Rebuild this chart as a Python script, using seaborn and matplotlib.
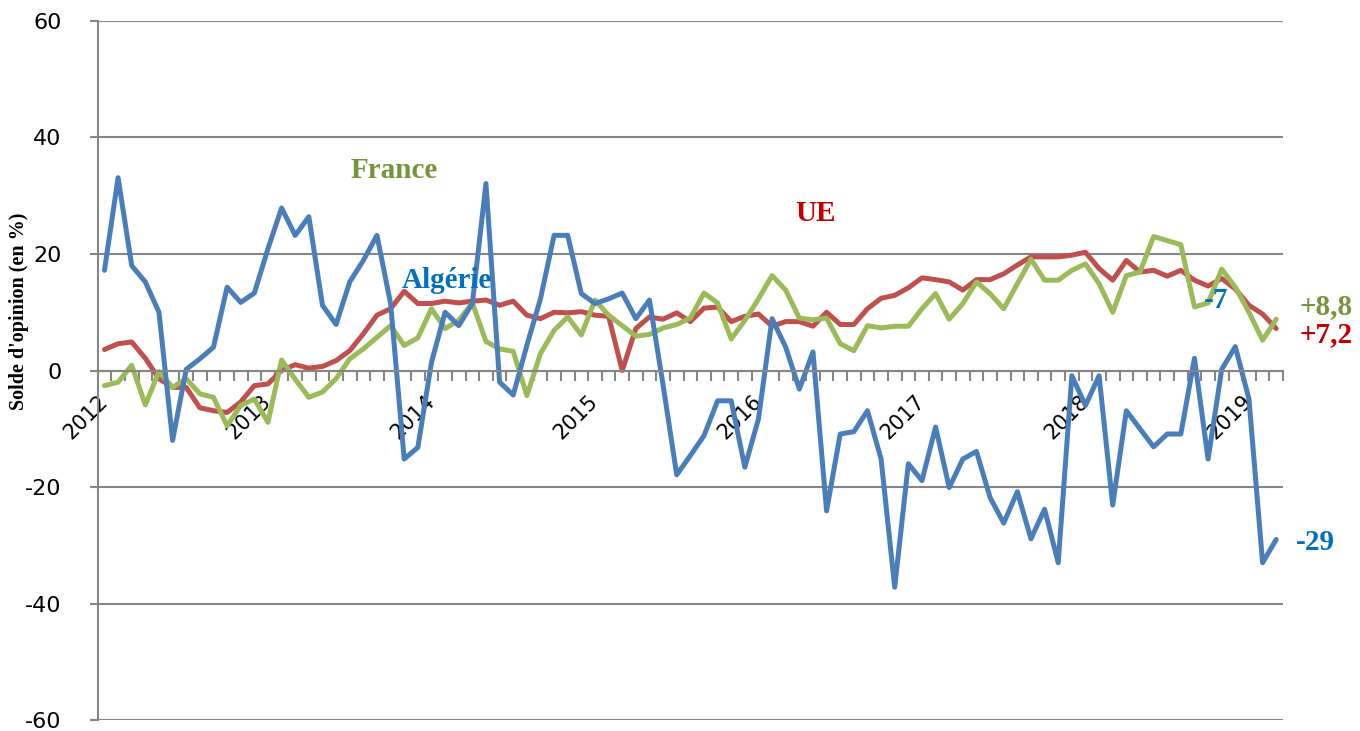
import numpy as np
import pandas as pd
import seaborn as sns
import matplotlib.pyplot as plt
from matplotlib.transforms import ScaledTranslation

# Monthly opinion balance, Jan 2012 - Mar 2019
years = ['2012', '2013', '2014', '2015', '2016', '2017', '2018', '2019']

algerie = [17.2, 33.1, 18.0, 15.2, 10.0, -12.0, 0.2, 2.0, 4.0, 14.3, 11.7, 13.3,
           20.9, 27.9, 23.2, 26.4, 11.2, 7.9, 15.2, 18.9, 23.2, 11.5, -15.2, -13.2,
           1.4, 10.0, 7.7, 11.5, 32.1, -2.0, -4.2, 4.3, 12.3, 23.2, 23.2, 13.2,
           11.5, 12.3, 13.3, 8.9, 12.1, -2.5, -17.9, -14.6, -11.2, -5.2, -5.2, -16.6,
           -8.3, 8.9, 4.0, -3.2, 3.2, -24.1, -10.9, -10.5, -6.9, -15.2, -37.2, -16.0,
           -18.9, -9.7, -20.1, -15.2, -13.9, -21.8, -26.2, -20.8, -28.9, -23.8, -33.0, -0.9,
           -6.0, -0.9, -23.1, -6.9, -10.0, -13.1, -10.9, -10.9, 2.1, -15.2, 0.2, 4.1,
           -4.9, -33.0, -29.0]

ue = [3.6, 4.6, 4.9, 2.1, -1.4, -2.9, -2.9, -6.4, -6.9, -7.2, -5.4, -2.6,
      -2.3, 0.0, 1.0, 0.4, 0.7, 1.7, 3.4, 6.3, 9.5, 10.6, 13.6, 11.5,
      11.5, 11.9, 11.6, 11.9, 12.1, 11.2, 11.9, 9.5, 8.9, 10.0, 9.9, 10.1,
      9.5, 9.3, 0.0, 7.2, 9.2, 8.8, 9.9, 8.4, 10.7, 10.9, 8.4, 9.3,
      9.7, 7.6, 8.4, 8.4, 7.6, 10.0, 7.9, 7.9, 10.6, 12.4, 12.9, 14.2,
      15.9, 15.6, 15.2, 13.8, 15.6, 15.6, 16.6, 18.1, 19.5, 19.5, 19.5, 19.8,
      20.3, 17.5, 15.5, 18.9, 16.9, 17.2, 16.2, 17.2, 15.5, 14.5, 15.8, 14.0,
      11.2, 9.7, 7.2]

france = [-2.6, -2.0, 0.9, -5.9, -0.2, -2.9, -1.4, -4.0, -4.6, -9.5, -6.0, -4.9,
          -8.9, 1.8, -1.5, -4.6, -3.7, -1.4, 2.0, 3.7, 5.7, 7.7, 4.3, 5.6,
          10.6, 7.2, 8.6, 11.6, 5.0, 3.7, 3.3, -4.3, 2.9, 6.9, 9.2, 6.1,
          12.1, 9.5, 7.7, 5.9, 6.2, 7.3, 7.9, 9.0, 13.3, 11.6, 5.4, 8.6,
          12.3, 16.3, 13.8, 9.0, 8.7, 9.0, 4.6, 3.4, 7.7, 7.3, 7.6, 7.6,
          10.6, 13.2, 8.8, 11.5, 15.2, 13.2, 10.6, 14.9, 19.1, 15.5, 15.5, 17.2,
          18.3, 14.9, 10.0, 16.3, 16.9, 23.0, 22.3, 21.6, 10.9, 11.6, 17.4, 14.3,
          10.0, 5.2, 8.8]

months = np.arange(len(algerie))
df = pd.DataFrame({'mois': months, 'Algérie': algerie, 'UE': ue, 'France': france})

sns.set_theme(style='white')
plt.rcParams['font.family'] = ['DejaVu Sans']
plt.rcParams['axes.unicode_minus'] = False

grid_col = '#868686'
blue, red, green = '#4A7EBB', '#C0504D', '#9BBB59'

fig, ax = plt.subplots(figsize=(13.6, 7.31), dpi=100)
fig.subplots_adjust(left=0.0718, right=0.9434, top=0.9713, bottom=0.015)

sns.lineplot(data=df, x='mois', y='UE', color=red, lw=3.6, ax=ax)
sns.lineplot(data=df, x='mois', y='France', color=green, lw=3.6, ax=ax)
sns.lineplot(data=df, x='mois', y='Algérie', color=blue, lw=3.6, ax=ax)

ax.set_xlim(-0.5, len(months) - 0.5)
ax.set_ylim(-60, 60)
ax.set_yticks(range(-60, 61, 20))
ax.yaxis.grid(True, color=grid_col, lw=1.5)
ax.xaxis.grid(False)
ax.set_axisbelow(True)

for s in ['top', 'right']:
    ax.spines[s].set_visible(False)
ax.spines['bottom'].set_position(('data', 0))
for s in ['bottom', 'left']:
    ax.spines[s].set_color(grid_col)
    ax.spines[s].set_linewidth(1.5)

# year labels on Januaries, small ticks between months
ax.set_xticks(np.arange(0, len(months), 12))
ax.set_xticklabels(years, rotation=45, ha='right', rotation_mode='anchor', fontsize=15)
ax.set_xticks(np.arange(-0.5, len(months), 1), minor=True)
ax.tick_params(axis='x', which='major', length=0, pad=15, labelcolor='black')
ax.tick_params(axis='x', which='minor', length=7, width=1.5, color=grid_col, bottom=True)
ax.tick_params(axis='y', length=6, width=1.5, color=grid_col, left=True, labelsize=16,
               pad=20, labelcolor='black')
for lbl in ax.get_xticklabels():
    lbl.set_transform(lbl.get_transform() + ScaledTranslation(-0.07, 0, fig.dpi_scale_trans))

ax.set_xlabel('')
ax.set_ylabel("Solde d'opinion (en %)", family='Liberation Serif', weight='bold',
              fontsize=14.5, color='black')
ax.yaxis.set_label_coords(-0.058, 0.584)

serif = dict(family='Liberation Serif', weight='bold', fontsize=21, ha='center', va='center', clip_on=False)
ax.text(21.25, 34.3, 'France', color='#77933C', **serif)
ax.text(52.2, 27.0, 'UE', color='#C00000', **serif)
ax.text(25.1, 15.5, 'Algérie', color='#0070C0', **serif)
ax.text(81.6, 12.1, '-7', color='#0070C0', **serif)
ax.text(89.65, 11.0, '+8,8', color='#77933C', **serif)
ax.text(89.65, 6.2, '+7,2', color='#C00000', **serif)
ax.text(88.9, -29.6, '-29', color='#0070C0', **serif)

plt.savefig('out.png', dpi=100)
